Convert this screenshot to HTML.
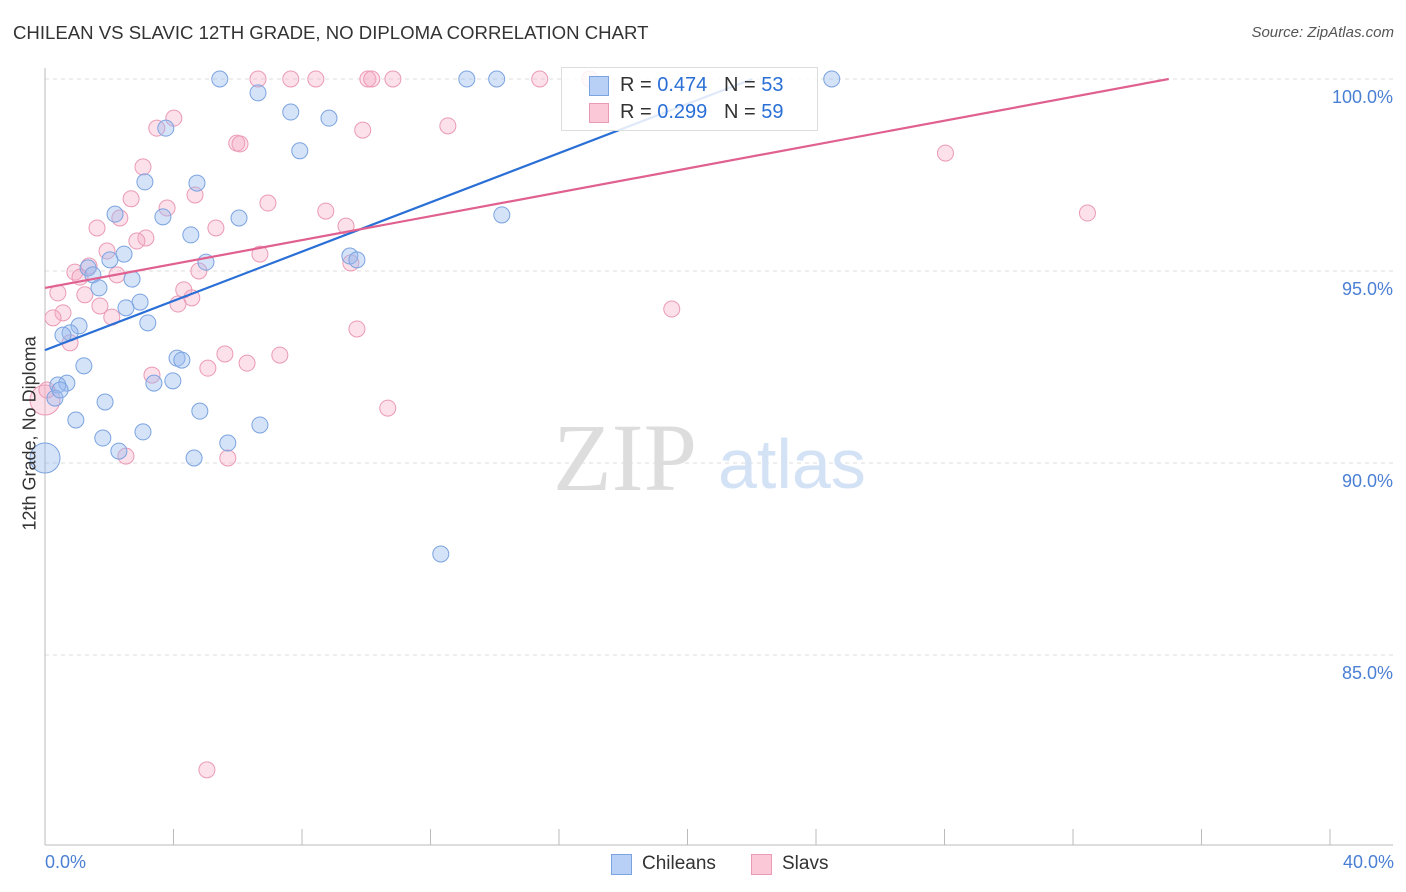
<!DOCTYPE html>
<html><head><meta charset="utf-8"><style>
body{margin:0;background:#fff;font-family:"Liberation Sans",sans-serif;}
#wrap{position:relative;width:1406px;height:892px;overflow:hidden;}
.t{position:absolute;white-space:nowrap;}
</style></head><body>
<div id="wrap">
<div class="t" style="left:13px;top:22px;font-size:18.6px;color:#333;">CHILEAN VS SLAVIC 12TH GRADE, NO DIPLOMA CORRELATION CHART</div>
<div class="t" style="right:12px;top:24px;font-size:15px;color:#555;font-style:italic;">Source: ZipAtlas.com</div>
<svg id="svg" width="1406" height="892" style="position:absolute;left:0;top:0"></svg>
</div>
<script>
const blueX=[5.44,6.63,7.65,8.84,7.93,3.76,3.11,4.73,2.18,6.04,3.67,4.54,2.46,2.02,5.01,1.34,1.49,1.68,2.71,2.96,2.52,3.20,1.06,0.78,0.56,1.21,4.11,4.26,0.68,0.40,3.39,3.98,0.31,1.87,4.82,0.96,6.69,3.05,1.80,5.69,2.30,4.64,0,13.13,14.06,24.49,14.22,9.49,9.71,12.32,0.47];
const blueY=[100,99.64,99.14,98.98,98.13,98.72,97.32,97.29,96.48,96.38,96.41,95.94,95.44,95.29,95.23,95.08,94.90,94.56,94.79,94.19,94.04,93.65,93.57,93.39,93.33,92.53,92.73,92.68,92.08,92.03,92.08,92.14,91.69,91.59,91.35,91.12,90.99,90.81,90.65,90.52,90.31,90.13,90.13,100,100,100,96.46,95.39,95.29,87.63,91.90];
const pinkX=[6.63,7.65,8.43,10.05,10.17,10.83,15.40,16.96,4.01,3.48,9.89,12.54,5.97,6.07,3.05,2.68,4.67,3.80,6.94,8.74,2.33,1.62,5.32,9.37,3.14,2.86,1.93,6.69,9.52,1.37,0.93,1.09,2.24,4.79,4.32,4.57,4.14,0.40,1.24,1.71,2.08,0.56,0.25,0.78,9.71,5.60,7.31,3.33,5.07,6.29,0,10.67,5.69,2.52,5.04,19.51,28.03,32.45,0.06];
const pinkY=[100,100,100,100,100,100,100,100,98.98,98.72,98.67,98.78,98.33,98.31,97.71,96.88,96.98,96.64,96.77,96.56,96.38,96.12,96.12,96.17,95.86,95.78,95.52,95.44,95.21,95.13,94.97,94.84,94.90,95.00,94.51,94.30,94.14,94.43,94.38,94.09,93.80,93.91,93.78,93.13,93.49,92.84,92.81,92.29,92.47,92.60,91.64,91.43,90.13,90.18,82.01,94.01,98.07,96.51,91.90];
const blueLine=[[0,92.94],[22.02,100]];
const pinkLine=[[0,94.56],[34.98,100]];
const yTicks=[100,95,90,85];
const yTickLabels=["100.0%","95.0%","90.0%","85.0%"];
const xTicks=[0,4,8,12,16,20,24,28,32,36,40];
const X=v=>45+v*32.125;
const Y=v=>79+(100-v)*38.4;
const svg=document.getElementById('svg');
const NS='http://www.w3.org/2000/svg';
function mk(tag,attrs,parent){const e=document.createElementNS(NS,tag);for(const k in attrs)e.setAttribute(k,attrs[k]);(parent||svg).appendChild(e);return e;}
yTicks.forEach((v,i)=>{
  const g=mk('line',{x1:45,x2:1393,y1:Y(v),y2:Y(v),stroke:'#ddd','stroke-dasharray':'4,4'});
  
  
  const t=mk('text',{x:1393,y:Y(v)+24,'text-anchor':'end','font-size':18,fill:'#4a7fd4','font-family':'Liberation Sans, sans-serif'});
  t.textContent=yTickLabels[i];
  
  
});
const ax=mk('line',{x1:45,x2:45,y1:68,y2:845,stroke:'#bbb'});


const bx=mk('line',{x1:45,x2:1393,y1:845,y2:845,stroke:'#bbb'});


xTicks.forEach(v=>{
  const l=mk('line',{x1:X(v),x2:X(v),y1:829,y2:845,stroke:'#bbb'});
  
  
});
const w1=mk('text',{x:553,y:490,'font-size':96,fill:'#ddd','font-family':'Liberation Serif, serif'});w1.textContent='ZIP';


const w2=mk('text',{x:718,y:488,'font-size':70,fill:'#d4e2f5','font-family':'Liberation Sans, sans-serif'});w2.textContent='atlas';


function dots(xs,ys,fill,stroke,name){
  xs.forEach((x,i)=>{
    const big=(x<0.1&&(ys[i]<91.7&&ys[i]>90));
    const c=mk('circle',{cx:X(x),cy:Y(ys[i]),r:big?15:8,fill:fill,stroke:stroke,'stroke-width':1});
    
    
  });
}
dots(pinkX,pinkY,'rgba(245,170,195,0.35)','#eb9ab5','slavs-point');
dots(blueX,blueY,'rgba(150,185,240,0.4)','#7ba3e0','chileans-point');
const bl=mk('line',{x1:X(blueLine[0][0]),y1:Y(blueLine[0][1]),x2:X(blueLine[1][0]),y2:Y(blueLine[1][1]),stroke:'#2a6fd6','stroke-width':2.2});


const pl=mk('line',{x1:X(pinkLine[0][0]),y1:Y(pinkLine[0][1]),x2:X(pinkLine[1][0]),y2:Y(pinkLine[1][1]),stroke:'#e0608f','stroke-width':2.2});


</script>
<div class="t" style="left:-45px;top:445px;font-size:18px;color:#333;transform:rotate(-90deg);transform-origin:center;width:150px;text-align:center;">12th Grade, No Diploma</div>
<div class="t" style="left:45px;top:852px;font-size:18px;color:#4a7fd4;">0.0%</div>
<div class="t" style="right:12px;top:852px;font-size:18px;color:#4a7fd4;">40.0%</div>
<div style="position:absolute;left:561px;top:67px;width:255px;height:62px;border:1px solid #ddd;background:rgba(255,255,255,0.85);font-size:20px;">
 <div style="position:absolute;left:27px;top:8px;width:18px;height:18px;background:#b8d0f5;border:1px solid #7ba3e0;"></div>
 <div class="t" style="left:58px;top:6px;color:#333;">R = <span style="color:#2a6fd6">0.474</span>&nbsp;&nbsp;&nbsp;N = <span style="color:#2a6fd6">53</span></div>
 <div style="position:absolute;left:27px;top:35px;width:18px;height:18px;background:#fbc8d8;border:1px solid #eb9ab5;"></div>
 <div class="t" style="left:58px;top:33px;color:#333;">R = <span style="color:#2a6fd6">0.299</span>&nbsp;&nbsp;&nbsp;N = <span style="color:#2a6fd6">59</span></div>
</div>
<div style="position:absolute;left:611px;top:854px;width:19px;height:19px;background:#b8d0f5;border:1px solid #7ba3e0;"></div>
<div class="t" style="left:642px;top:853px;font-size:19px;color:#333;">Chileans</div>
<div style="position:absolute;left:751px;top:854px;width:19px;height:19px;background:#fbc8d8;border:1px solid #eb9ab5;"></div>
<div class="t" style="left:782px;top:853px;font-size:19px;color:#333;">Slavs</div>
</body></html>
